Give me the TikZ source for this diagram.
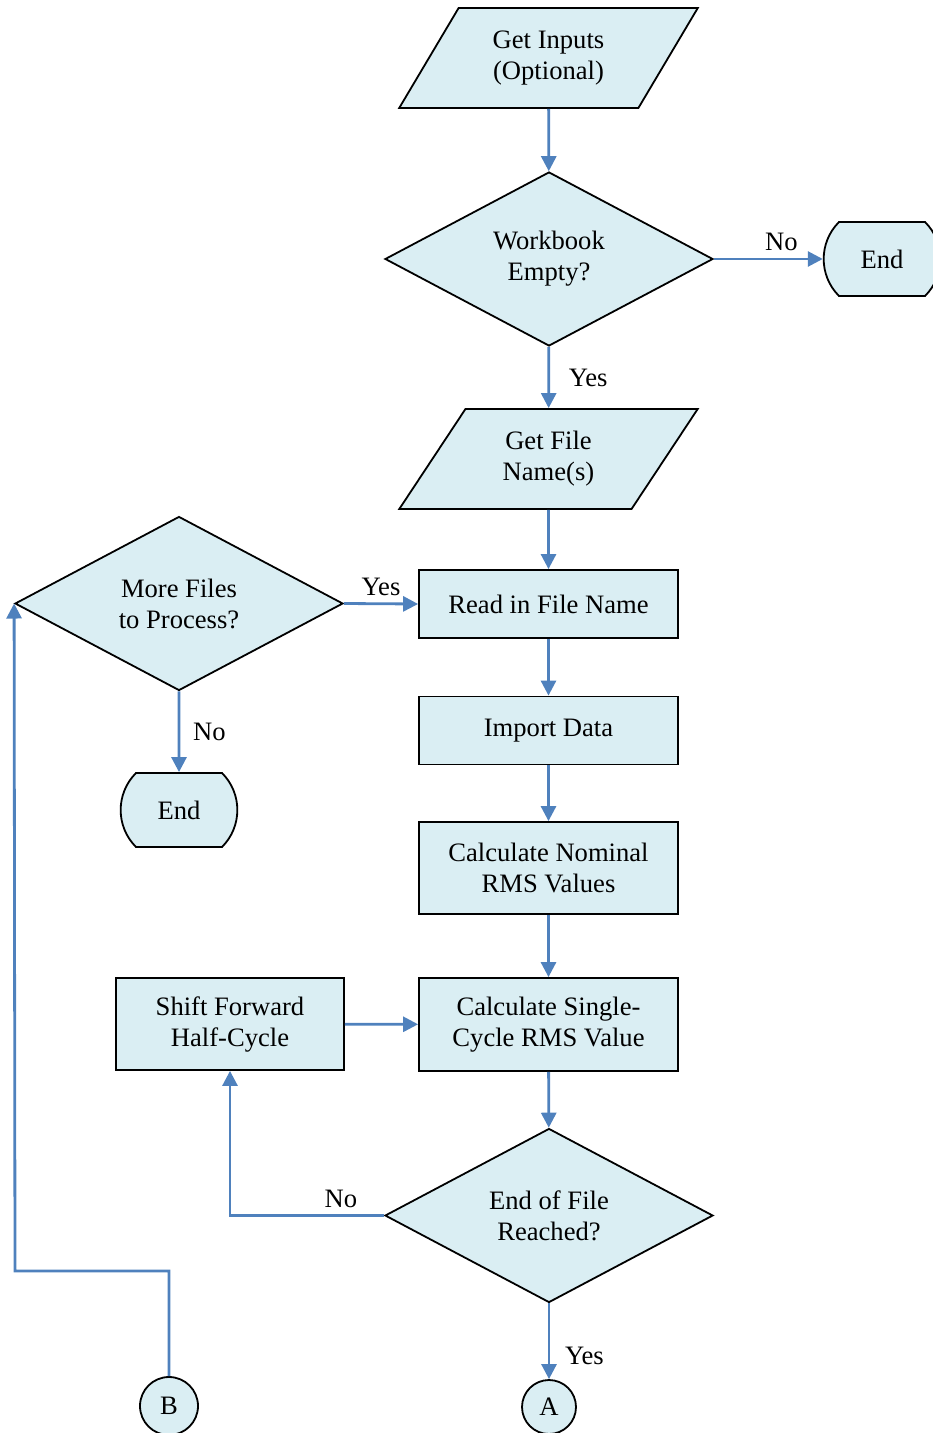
\documentclass[tikz,border=0pt]{standalone}
\usepackage{fontspec}
\setmainfont{Liberation Serif}
\usepackage{tikz}
\usetikzlibrary{shapes.geometric, shapes.misc, arrows.meta}
\definecolor{boxfill}{HTML}{DAEEF3}
\definecolor{flowblue}{HTML}{4F81BD}
\tikzstyle{flowbase} = [draw=black, line width=0.9pt, fill=boxfill, align=center, font=\fontsize{13.3}{15.5}\selectfont]
\tikzstyle{io} = [flowbase, trapezium, trapezium stretches=true, trapezium left angle=58.6, trapezium right angle=121.4, minimum width=149.5pt, minimum height=50pt]
\tikzstyle{process} = [flowbase, rectangle, minimum width=129.5pt, minimum height=34pt]
\tikzstyle{decision} = [flowbase, diamond, inner sep=0pt, minimum width=164pt, minimum height=87pt]
\tikzstyle{terminal} = [flowbase, rounded rectangle, rounded rectangle arc length=90, minimum width=65pt, minimum height=37pt]
\tikzstyle{connector} = [flowbase, circle, inner sep=0pt, minimum size=27pt]
\tikzstyle{answer} = [font=\fontsize{13.3}{15.5}\selectfont]
\tikzstyle{arrow} = [draw=flowblue, line width=1.4pt, -{Triangle[length=7.5pt, width=7.5pt]}]

\begin{document}
\begin{tikzpicture}[x=0.5pt, y=-0.5pt]
	\useasboundingbox (0,0) rectangle (932,1433);

	% main column
	\node (io1) [io] at (548.5,58) {Get Inputs\\(Optional)};
	\node (dec1) [decision] at (549,259) {Workbook\\Empty?};
	\node (stop1) [terminal] at (882,259) {End};
	\node (io2) [io] at (548.5,459) {Get File\\Name(s)};
	\node (pro1) [process] at (548.5,604) {Read in File Name};
	\node (pro2) [process] at (548.5,730.5) {Import Data};
	\node (pro3) [process, minimum height=46pt] at (548.5,868) {Calculate Nominal\\RMS Values};
	\node (pro4) [process, minimum height=46.5pt] at (548.5,1024.5) {Calculate Single-\\Cycle RMS Value};
	\node (dec2) [decision] at (549,1215.5) {End of File\\Reached?};
	\node (conA) [connector] at (549,1407) {A};

	% left column
	\node (dec3) [decision] at (179,603.5) {More Files\\to Process?};
	\node (stop2) [terminal] at (179,810) {End};
	\node (pro5) [process, minimum width=114pt, minimum height=46pt] at (230,1024) {Shift Forward\\Half-Cycle};
	\node (conB) [connector, minimum size=29pt] at (169,1406) {B};
	\coordinate (loop) at (15,1271);

	\draw [arrow] (io1) -- (dec1);
	\draw [arrow] (dec1) -- node [answer, above, pos=0.62] {No} (stop1);
	\draw [arrow] (dec1) -- node [answer, right, xshift=6pt] {Yes} (io2);
	\draw [arrow] (io2) -- (pro1);
	\draw [arrow] (dec3.east) -- node [answer, above] {Yes} (pro1.west);
	\draw [arrow] (dec3) -- node [answer, right, xshift=3pt] {No} (stop2);
	\draw [arrow] (pro1) -- (pro2);
	\draw [arrow] (pro2) -- (pro3);
	\draw [arrow] (pro3) -- (pro4);
	\draw [arrow] (pro5) -- (pro4);
	\draw [arrow] (pro4) -- (dec2);
	\draw [arrow] (dec2.west) -| node [answer, above, pos=0.14] {No} (pro5.south);
	\draw [arrow] (dec2) -- node [answer, right, pos=0.7, xshift=4pt] {Yes} (conA);
	\draw [arrow] (conB.north) |- (loop) -- (dec3.west);
\end{tikzpicture}
\end{document}
